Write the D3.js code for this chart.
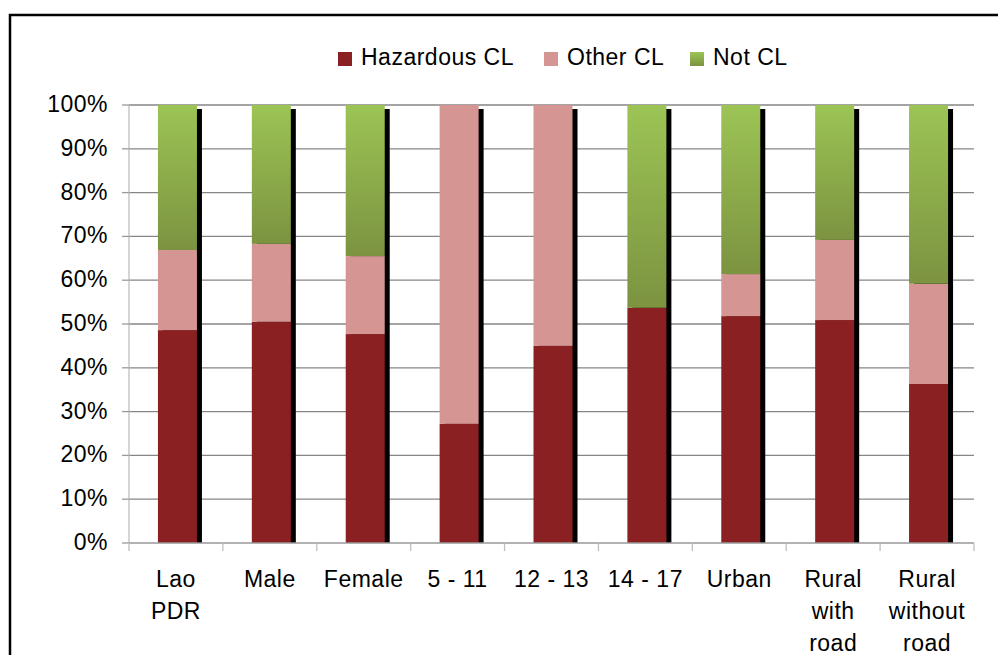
<!DOCTYPE html>
<html>
<head>
<meta charset="utf-8">
<script src="https://cdn.jsdelivr.net/npm/d3@7"></script>
<style>
  body { margin: 0; background: #fff; }
  text { font-family: "Liberation Sans", Arial, sans-serif; fill: #000; letter-spacing: 0.5px; }
</style>
</head>
<body>
<svg width="998" height="655"></svg>
<script>
const svg = d3.select('svg');

// category labels, one entry per line
const categories = [
  ['Lao', 'PDR'], ['Male'], ['Female'], ['5 - 11'], ['12 - 13'],
  ['14 - 17'], ['Urban'], ['Rural', 'with', 'road'], ['Rural', 'without', 'road']
];
const seriesNames = ['Hazardous CL', 'Other CL', 'Not CL'];

// percentages
const hazardous = [48.6, 50.5, 47.7, 27.2, 45.0, 53.7, 51.8, 50.9, 36.3];
const otherCL   = [18.3, 17.8, 17.8, 72.8, 55.0, 0.0, 9.6, 18.3, 22.9];
const notCL     = [33.1, 31.7, 34.5, 0.0, 0.0, 46.3, 38.6, 30.8, 40.8];

const yTicks = [0, 10, 20, 30, 40, 50, 60, 70, 80, 90, 100];

const colors = ['#8B2022', '#D59593', 'url(#greenGrad)'];

// gradient for the "Not CL" segments
const defs = svg.append('defs');
const grad = defs.append('linearGradient')
  .attr('id', 'greenGrad')
  .attr('x1', 0).attr('y1', 0).attr('x2', 0).attr('y2', 1);
grad.append('stop').attr('offset', '0%').attr('stop-color', '#9CC455');
grad.append('stop').attr('offset', '100%').attr('stop-color', '#7C9340');

// outer frame (runs off the right and bottom edges)
svg.append('rect')
  .attr('x', 10).attr('y', 15)
  .attr('width', 1100).attr('height', 800)
  .attr('fill', 'none').attr('stroke', '#000').attr('stroke-width', 2.5);

const plotLeft = 129, plotRight = 974, plotTop = 105, plotBottom = 543;

const x = d3.scaleBand()
  .domain(d3.range(categories.length))
  .range([plotLeft, plotRight]);

const y = d3.scaleLinear().domain([0, 100]).range([plotBottom, plotTop]);

const barW = 39;

// gridlines
svg.append('g')
  .selectAll('line')
  .data(yTicks.filter(d => d > 0))
  .enter()
  .append('line')
  .attr('x1', plotLeft).attr('x2', plotRight)
  .attr('y1', d => y(d)).attr('y2', d => y(d))
  .attr('stroke', '#868686').attr('stroke-width', 1.3);

// stacked data
const rows = categories.map((c, i) => ({ i, h: hazardous[i], o: otherCL[i], n: notCL[i] }));
const stack = d3.stack().keys(['h', 'o', 'n'])(rows);

const barX = i => x(i) + x.bandwidth() / 2 - barW / 2 + 1.5;

// shadows
svg.append('g')
  .selectAll('rect')
  .data(rows)
  .enter()
  .append('rect')
  .attr('x', d => barX(d.i) + 5)
  .attr('y', d => y(d.h + d.o + d.n) + 4)
  .attr('width', barW)
  .attr('height', d => plotBottom - y(d.h + d.o + d.n) - 4)
  .attr('fill', '#000');

// bars
svg.append('g')
  .selectAll('g')
  .data(stack)
  .enter()
  .append('g')
  .attr('fill', (d, k) => colors[k])
  .selectAll('rect')
  .data(d => d.filter(s => s[1] - s[0] > 0))
  .enter()
  .append('rect')
  .attr('x', d => barX(d.data.i))
  .attr('y', d => y(d[1]))
  .attr('width', barW)
  .attr('height', d => y(d[0]) - y(d[1]));

// y axis
const yAxis = svg.append('g');
yAxis.append('line')
  .attr('x1', plotLeft).attr('x2', plotLeft)
  .attr('y1', plotTop).attr('y2', plotBottom)
  .attr('stroke', '#BFBFBF').attr('stroke-width', 1.3);
yAxis.selectAll('line.tick')
  .data(yTicks)
  .enter()
  .append('line')
  .attr('class', 'tick')
  .attr('x1', plotLeft - 7).attr('x2', plotLeft)
  .attr('y1', d => y(d)).attr('y2', d => y(d))
  .attr('stroke', '#999').attr('stroke-width', 1.3);
yAxis.selectAll('text')
  .data(yTicks)
  .enter()
  .append('text')
  .attr('x', 108)
  .attr('y', d => y(d) + 7)
  .attr('text-anchor', 'end')
  .attr('font-size', 23)
  .text(d => d + '%');

// x axis
const xAxis = svg.append('g');
xAxis.append('line')
  .attr('x1', plotLeft).attr('x2', plotRight)
  .attr('y1', plotBottom).attr('y2', plotBottom)
  .attr('stroke', '#999').attr('stroke-width', 1.3);
xAxis.selectAll('line.tick')
  .data(d3.range(categories.length + 1))
  .enter()
  .append('line')
  .attr('class', 'tick')
  .attr('x1', i => plotLeft + i * x.bandwidth())
  .attr('x2', i => plotLeft + i * x.bandwidth())
  .attr('y1', plotBottom).attr('y2', plotBottom + 8)
  .attr('stroke', '#BFBFBF').attr('stroke-width', 1.3);
xAxis.selectAll('text')
  .data(categories)
  .enter()
  .append('text')
  .attr('x', (d, i) => x(i) + x.bandwidth() / 2)
  .attr('text-anchor', 'middle')
  .attr('font-size', 23)
  .selectAll('tspan')
  .data(d => d)
  .enter()
  .append('tspan')
  .attr('x', function () { return d3.select(this.parentNode).attr('x'); })
  .attr('y', (d, j) => 587 + j * 32)
  .text(d => d);

// legend
const legendX = [338, 544, 690];
const legend = svg.append('g')
  .selectAll('g')
  .data(seriesNames)
  .enter()
  .append('g')
  .attr('transform', (d, i) => `translate(${legendX[i]},52)`);
legend.append('rect')
  .attr('width', 14).attr('height', 14)
  .attr('fill', (d, i) => colors[i]);
legend.append('text')
  .attr('x', 23).attr('y', 13)
  .attr('font-size', 23)
  .text(d => d);
</script>
</body>
</html>
